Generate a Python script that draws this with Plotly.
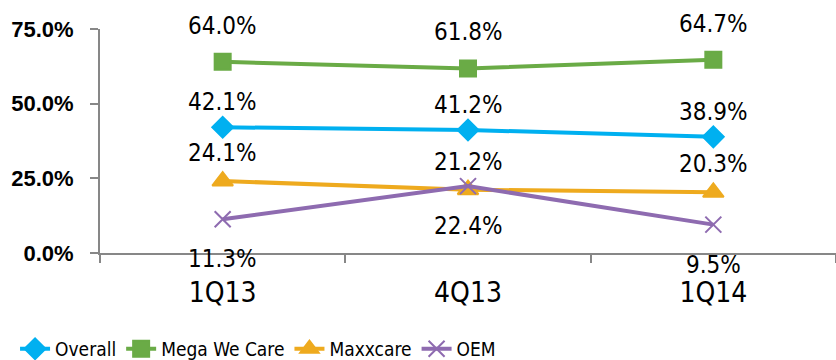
import plotly.graph_objects as go

categories = ["1Q13", "4Q13", "1Q14"]
overall = [42.1, 41.2, 38.9]
mega = [64.0, 61.8, 64.7]
maxxcare = [24.1, 21.2, 20.3]
oem = [11.3, 22.4, 9.5]
y_ticks = [0, 25, 50, 75]
y_tick_labels = ["0.0%", "25.0%", "50.0%", "75.0%"]

NARROW = "DejaVu Sans Condensed, Liberation Sans Narrow, sans-serif"

series = [
    ("Overall", overall, "#00B0F0", "diamond", 16, 4, 25),
    ("Mega We Care", mega, "#6AAB46", "square", 16, 4, 36),
    ("Maxxcare", maxxcare, "#EEAA1E", "triangle-up", 18, 4, 28),
    ("OEM", oem, "#8E6BB0", "x-thin-open", 16, 4, -40),
]

fig = go.Figure()
annotations = []
for name, vals, color, sym, msize, lw, shift in series:
    fig.add_trace(go.Scatter(
        x=categories, y=vals, name=name, mode="lines+markers",
        line=dict(color=color, width=lw),
        marker=dict(symbol=sym, size=msize, color=color,
                    line=dict(color=color, width=2)),
        cliponaxis=False,
    ))
    for c, v in zip(categories, vals):
        annotations.append(dict(
            x=c, y=v, xref="x", yref="y", text=f"{v:.1f}%", showarrow=False,
            yshift=shift, yanchor="middle", xanchor="center",
            font=dict(family=NARROW, size=24, color="#000000"),
        ))

fig.update_layout(
    width=836, height=360,
    margin=dict(l=100, r=0, t=29, b=107, autoexpand=False),
    paper_bgcolor="white", plot_bgcolor="white",
    annotations=annotations,
    showlegend=True,
    legend=dict(
        orientation="h", xref="container", yref="paper",
        x=0.018, y=-0.428, xanchor="left", yanchor="middle",
        font=dict(family=NARROW, size=19, color="#000000"),
        itemwidth=30, tracegroupgap=0,
    ),
)
fig.update_xaxes(
    type="category", range=[-0.5, 2.5], showgrid=False,
    showline=True, linecolor="#878787", linewidth=2,
    ticks="outside", tickson="boundaries", ticklen=8, tickcolor="#878787", tickwidth=2,
    tickfont=dict(family=NARROW, size=28, color="#000000"),
    ticklabelstandoff=13,
)
fig.update_yaxes(
    range=[0, 75], tickvals=y_ticks, ticktext=y_tick_labels, showgrid=False,
    zeroline=False, showline=True, linecolor="#878787", linewidth=2,
    ticks="outside", ticklen=8, tickcolor="#878787", tickwidth=2,
    tickfont=dict(family="Liberation Sans", size=22, color="#000000", weight="bold"),
    ticklabelstandoff=12,
)

fig.write_html("out.html")
